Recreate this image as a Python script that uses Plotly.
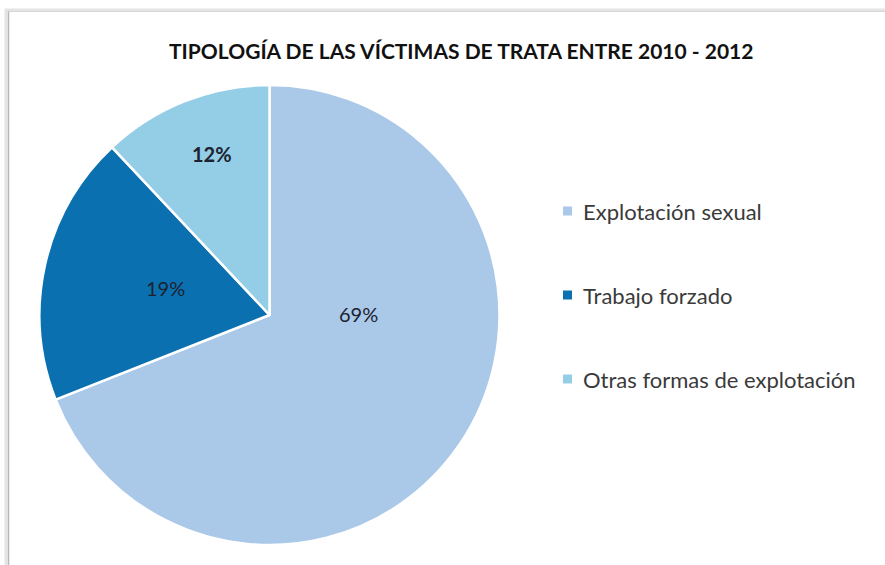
import plotly.graph_objects as go

categories = ["Explotación sexual", "Trabajo forzado", "Otras formas de explotación"]
values = [69, 19, 12]
colors = ["#AAC8E8", "#0B70B0", "#94CEE6"]
title_text = "TIPOLOGÍA DE LAS VÍCTIMAS DE TRATA ENTRE 2010 - 2012"

W, H = 885, 565

# label positions in pixels (x, y from top), style only
label_pos = [(358, 314), (165, 288), (212, 154)]
label_bold = [False, False, True]
legend_y = [211, 295, 379]

fig = go.Figure()
fig.add_trace(go.Pie(
    labels=categories,
    values=values,
    marker=dict(colors=colors, line=dict(color="white", width=2.5)),
    sort=False,
    direction="clockwise",
    rotation=0,
    textinfo="none",
    hoverinfo="label+percent",
    showlegend=False,
    domain=dict(x=[39 / W, 500 / W], y=[20 / H, 480 / H]),
))

shapes = []
annotations = []

# chart frame with soft shadow
shapes.append(dict(type="rect", xref="paper", yref="paper",
                   x0=6 / W, x1=1.05, y0=-0.05, y1=1 - 10 / H,
                   line=dict(color="#e4e4e4", width=3), fillcolor="rgba(0,0,0,0)", layer="below"))
shapes.append(dict(type="line", xref="paper", yref="paper",
                   x0=8.5 / W, x1=8.5 / W, y0=-0.05, y1=1 - 11 / H,
                   line=dict(color="#b8b8b8", width=1.5), layer="below"))
shapes.append(dict(type="line", xref="paper", yref="paper",
                   x0=8.5 / W, x1=1.05, y0=1 - 11.5 / H, y1=1 - 11.5 / H,
                   line=dict(color="#d6d6d6", width=1), layer="below"))

# percentage labels
for v, (px, py), b in zip(values, label_pos, label_bold):
    annotations.append(dict(
        x=px / W, y=1 - py / H, xref="paper", yref="paper",
        text=f"<b>{v}%</b>" if b else f"{v}%", showarrow=False,
        font=dict(family="Lato, 'Open Sans', sans-serif", size=20, color="#1c2230"),
        xanchor="center", yanchor="middle"))

# legend
for cat, col, ly in zip(categories, colors, legend_y):
    shapes.append(dict(type="rect", xref="paper", yref="paper",
                       x0=563 / W, x1=572 / W, y0=1 - (ly + 4.5) / H, y1=1 - (ly - 4.5) / H,
                       fillcolor=col, line=dict(width=0)))
    annotations.append(dict(
        x=581 / W, y=1 - ly / H, xref="paper", yref="paper",
        text=cat, showarrow=False,
        font=dict(family="Lato, 'Open Sans', sans-serif", size=22, color="#3a3a3a"),
        xanchor="left", yanchor="middle"))

# title
annotations.append(dict(
    x=461 / W, y=1 - 50 / H, xref="paper", yref="paper",
    text=f"<b>{title_text}</b>", showarrow=False,
    font=dict(family="Lato, 'Open Sans', sans-serif", size=21, color="#111111"),
    xanchor="center", yanchor="middle"))

fig.update_layout(
    width=W, height=H,
    margin=dict(l=0, r=0, t=0, b=0),
    paper_bgcolor="white",
    plot_bgcolor="white",
    shapes=shapes,
    annotations=annotations,
    showlegend=False,
)

fig.write_html("out.html", config={"displayModeBar": False},
               post_script="document.body.style.margin='0';document.body.style.overflow='hidden';")
